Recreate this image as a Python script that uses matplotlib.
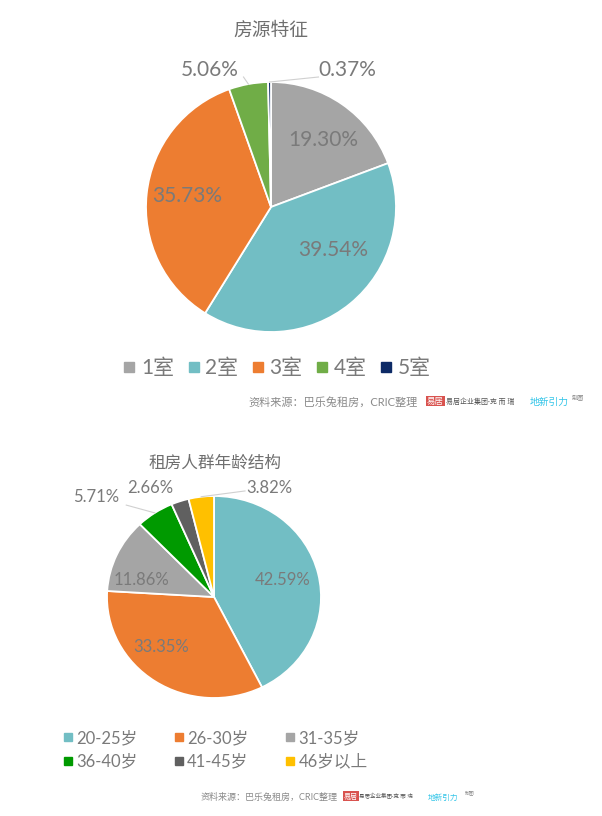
import matplotlib
matplotlib.use("Agg")
import numpy as np
import matplotlib.pyplot as plt
from matplotlib.lines import Line2D

plt.rcParams["font.family"] = ["Lato", "Noto Sans CJK SC", "DejaVu Sans"]

# data
room_labels = ["1室", "2室", "3室", "4室", "5室"]
room_share = [19.30, 39.54, 35.73, 5.06, 0.37]
room_colors = ["#a5a5a5", "#72bec4", "#ed7d31", "#70ad47", "#0d2a66"]

age_labels = ["20-25岁", "26-30岁", "31-35岁", "36-40岁", "41-45岁", "46岁以上"]
age_share = [42.59, 33.35, 11.86, 5.71, 2.66, 3.82]
age_colors = ["#72bec4", "#ed7d31", "#a5a5a5", "#009a00", "#606060", "#ffc000"]

TXT = "#7a7a7a"
W, H = 602, 816
fig = plt.figure(figsize=(W / 100, H / 100), dpi=100)
fig.patch.set_facecolor("white")


def pie_axes(cx, cy, rx, ry, lim=1.6):
    ax = fig.add_axes([(cx - lim * rx) / W, (H - cy - lim * ry) / H,
                       2 * lim * rx / W, 2 * lim * ry / H])
    return ax


def draw_pie(ax, values, colors, label_pos, leaders, fs, lim=1.6):
    ax.pie(values, colors=colors, startangle=90, counterclock=False,
           wedgeprops=dict(edgecolor="white", linewidth=1.3))
    ax.set_aspect("auto")
    ax.set_xlim(-lim, lim)
    ax.set_ylim(-lim, lim)
    ax.axis("off")
    for v, (x, y) in zip(values, label_pos):
        ax.text(x, y, f"{v:.2f}%", ha="center", va="center",
                fontsize=fs, color=TXT)
    # leader lines from label to wedge edge
    cum = np.cumsum([0] + list(values))
    for i, (lx, ly) in leaders.items():
        mid = np.deg2rad(90 - 360 * (cum[i] + cum[i + 1]) / 2 / sum(values))
        ax.plot([lx, np.cos(mid)], [ly, np.sin(mid)], color="#d0d0d0", lw=0.8)


# ---- top chart ----
fig.text(271 / W, 1 - 30 / H, "房源特征", ha="center", va="center",
         fontsize=13.5, color="#6f6f6f")
ax1 = pie_axes(271, 207, 125, 125)
draw_pie(ax1, room_share, room_colors,
         [(0.42, 0.54), (0.50, -0.34), (-0.67, 0.09), (-0.49, 1.10), (0.61, 1.10)],
         {3: (-0.22, 1.04), 4: (0.38, 1.04)}, fs=15)

h1 = [Line2D([], [], marker="s", ls="", color=c, markersize=7) for c in room_colors]
fig.legend(h1, room_labels, loc="center", bbox_to_anchor=(276 / W, 1 - 368 / H),
           ncol=5, frameon=False, fontsize=15, labelcolor=TXT,
           handletextpad=0.15, columnspacing=0.55, handlelength=0.8)

fig.text(418 / W, 1 - 402 / H, "资料来源：巴乐兔租房，CRIC整理", ha="right",
         va="center", fontsize=8, color="#8a8a8a")
fig.text(427 / W, 1 - 401 / H, "易居", ha="left", va="center", fontsize=6,
         color="white", bbox=dict(boxstyle="square,pad=0.15", fc="#d9534f", ec="none"))
fig.text(446 / W, 1 - 401 / H, "易居企业集团·克 而 瑞", ha="left", va="center",
         fontsize=5, color="#555555")
fig.text(530 / W, 1 - 402 / H, "地新引力", ha="left", va="center",
         fontsize=7, color="#33c5e8")
fig.text(572 / W, 1 - 397 / H, "制图", ha="left", va="center",
         fontsize=4.5, color="#888888")

# ---- bottom chart ----
fig.text(215 / W, 1 - 463 / H, "租房人群年龄结构", ha="center", va="center",
         fontsize=12, color="#6f6f6f")
ax2 = pie_axes(214, 597, 107, 101)
draw_pie(ax2, age_share, age_colors,
         [(0.645, 0.17), (-0.49, -0.50), (-0.68, 0.17), (-1.10, 0.99),
          (-0.60, 1.08), (0.52, 1.08)],
         {3: (-0.82, 0.91), 5: (0.29, 1.05)}, fs=12)

# legend fills column-wise, so reorder to get the reference's row order
order = [0, 3, 1, 4, 2, 5]
h2 = [Line2D([], [], marker="s", ls="", color=age_colors[i], markersize=6) for i in order]
fig.legend(h2, [age_labels[i] for i in order], loc="upper left",
           bbox_to_anchor=(46 / W, 1 - 715 / H), ncol=3, frameon=False,
           fontsize=12, labelcolor=TXT, handletextpad=0.1,
           columnspacing=2.1, handlelength=0.8, labelspacing=0.45)

fig.text(338 / W, 1 - 797 / H, "资料来源：巴乐兔租房，CRIC整理", ha="right",
         va="center", fontsize=6.5, color="#8a8a8a")
fig.text(344 / W, 1 - 796 / H, "易居", ha="left", va="center", fontsize=5,
         color="white", bbox=dict(boxstyle="square,pad=0.15", fc="#d9534f", ec="none"))
fig.text(359 / W, 1 - 796 / H, "易居企业集团·克 而 瑞", ha="left", va="center",
         fontsize=4, color="#555555")
fig.text(428 / W, 1 - 797 / H, "地新引力", ha="left", va="center",
         fontsize=5.5, color="#33c5e8")
fig.text(465 / W, 1 - 793 / H, "制图", ha="left", va="center",
         fontsize=3.5, color="#888888")

fig.savefig("out.png", dpi=100, facecolor="white")
